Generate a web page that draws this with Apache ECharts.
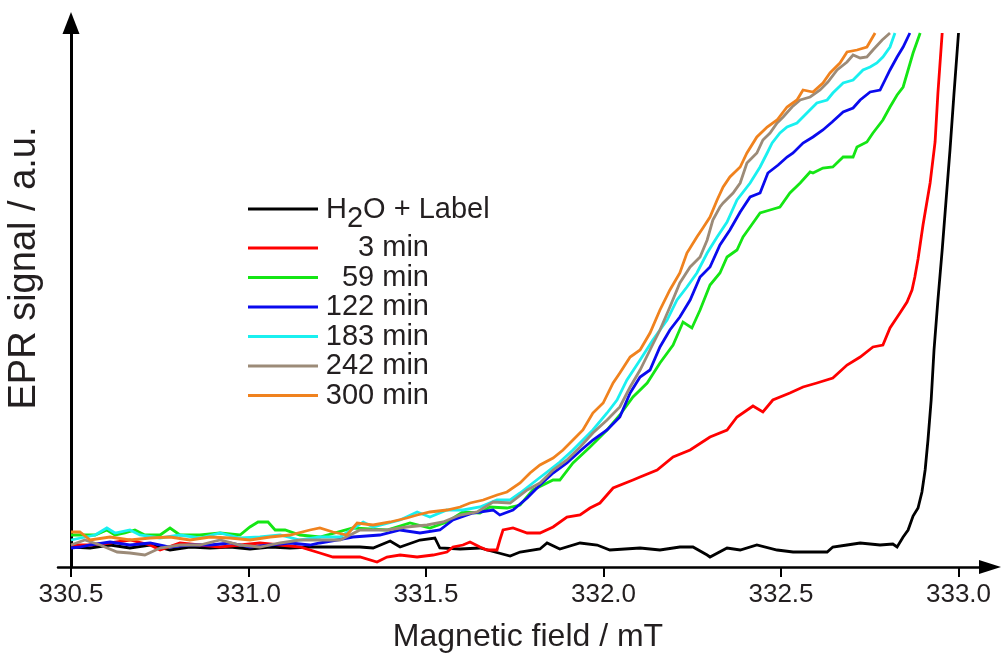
<!DOCTYPE html>
<html>
<head>
<meta charset="utf-8">
<script src="https://cdn.jsdelivr.net/npm/echarts@6/dist/echarts.min.js"></script>
<style>
  html, body { margin: 0; padding: 0; background: #ffffff; }
  #chart { width: 1002px; height: 659px; }
</style>
</head>
<body>
<div id="chart"></div>
<script>
// EPR spectra: high-field edge, signal in arbitrary units vs. magnetic field (mT)

const fieldTicks = [330.5, 331.0, 331.5, 332.0, 332.5, 333.0];

const seriesNames = ['H2O + Label', '3 min', '59 min', '122 min', '183 min', '242 min', '300 min'];
const seriesColors = ['#000000', '#ff0000', '#14e614', '#0a0aee', '#19f0f0', '#9c8b78', '#f0821e'];

// H2O + Label
const h2oField = [330.500,330.554,330.610,330.666,330.723,330.779,330.835,330.892,330.948,331.004,
  331.061,331.117,331.173,331.230,331.314,331.351,331.399,331.427,331.483,331.525,
  331.539,331.596,331.652,331.694,331.737,331.765,331.821,331.841,331.877,331.934,
  331.982,332.018,332.103,332.159,332.215,332.252,332.292,332.300,332.348,332.385,
  332.432,332.489,332.534,332.582,332.630,332.646,332.686,332.723,332.779,332.815,
  332.827,332.844,332.858,332.872,332.886,332.897,332.906,332.914,332.923,332.931,
  332.942,332.954,332.965,332.976,332.987,333.000];
const h2oSignal = [20,19,22,19,22,17,20,19,20,18, 20,19,20,20,20,19,26,20,27,29,
  19,18,19,15,11,15,18,24,18,24, 22,17,19,17,20,20,12,10,19,17,
  22,17,15,15,15,20,22,24,22,23, 20,30,37,51,59,75,97,127,167,217,
  267,317,367,417,472,534];

// 3 min
const min3Field = [330.500,330.554,330.610,330.666,330.723,330.751,330.807,330.863,330.920,330.976,
  331.032,331.089,331.145,331.201,331.238,331.277,331.314,331.362,331.390,331.427,
  331.475,331.520,331.559,331.576,331.604,331.624,331.652,331.672,331.700,331.708,
  331.717,331.745,331.785,331.821,331.858,331.897,331.934,331.962,331.990,332.027,
  332.083,332.103,332.151,332.196,332.244,332.300,332.348,332.376,332.421,332.449,
  332.477,332.525,332.562,332.601,332.646,332.686,332.723,332.759,332.787,332.807,
  332.835,332.855,332.869,332.877,332.886,332.900,332.920,332.934,332.942,332.954];
const min3Signal = [22,22,24,27,22,17,24,22,20,22, 24,22,20,14,10,10,10,5,10,12,
  10,12,15,20,22,25,20,17,17,27, 37,39,34,34,40,50,52,59,64,79,
  87,90,97,110,117,130,137,150,161,155, 167,174,180,184,189,202,210,220,222,239,
  254,265,277,290,308,342,384,425,474,534];

// 59 min
const min59Field = [330.500,330.568,330.601,330.624,330.652,330.680,330.708,330.751,330.779,330.807,
  330.863,330.920,330.976,331.004,331.027,331.055,331.075,331.103,331.145,331.201,
  331.294,331.390,331.455,331.511,331.559,331.604,331.652,331.680,331.728,331.765,
  331.801,331.858,331.877,331.914,331.962,332.010,332.046,332.083,332.123,332.159,
  332.196,332.224,332.249,332.272,332.300,332.328,332.348,332.376,332.393,332.413,
  332.441,332.469,332.497,332.525,332.554,332.582,332.590,332.618,332.646,332.675,
  332.703,332.714,332.742,332.759,332.787,332.807,332.827,332.844,332.858,332.872,
  332.892];
const min59Signal = [32,32,37,32,34,37,32,32,39,32, 32,34,32,40,45,45,37,37,32,30,
  39,37,44,39,45,55,54,60,59,62, 77,87,87,104,120,137,152,170,184,204,
  222,245,239,257,282,294,310,317,330,340, 354,357,360,374,384,395,394,399,400,410,
  410,420,425,434,447,460,472,480,497,514, 534];

// 122 min
const min122Field = [330.500,330.525,330.554,330.610,330.666,330.723,330.779,330.835,330.892,330.948,
  331.004,331.061,331.117,331.173,331.201,331.249,331.294,331.370,331.427,331.483,
  331.539,331.576,331.632,331.689,331.708,331.745,331.785,331.821,331.858,331.897,
  331.934,331.970,332.010,332.046,332.075,332.103,332.131,332.159,332.187,332.215,
  332.244,332.272,332.300,332.328,332.356,332.385,332.413,332.441,332.463,332.492,
  332.517,332.534,332.562,332.590,332.618,332.644,332.675,332.703,332.723,332.751,
  332.779,332.793,332.807,332.827,332.844,332.863];
const min122Signal = [19,20,22,25,22,24,20,22,22,24, 20,22,24,22,24,27,30,32,37,34,
  37,47,54,57,52,57,69,82,94,104, 116,127,137,150,174,190,197,220,237,250,
  267,290,300,322,337,355,370,374,394,402, 410,414,424,430,437,445,455,459,467,475,
  477,487,497,510,520,534];

// 183 min
const min183Field = [330.500,330.568,330.601,330.624,330.666,330.694,330.751,330.807,330.863,330.920,
  330.976,331.032,331.089,331.145,331.201,331.258,331.323,331.351,331.427,331.475,
  331.511,331.559,331.604,331.652,331.700,331.737,331.765,331.801,331.841,331.877,
  331.914,331.942,331.970,332.010,332.038,332.066,332.103,332.139,332.179,332.207,
  332.235,332.263,332.292,332.320,332.348,332.376,332.413,332.441,332.461,332.475,
  332.497,332.517,332.545,332.573,332.601,332.630,332.646,332.675,332.703,332.731,
  332.751,332.770,332.787,332.807,332.821];
const min183Signal = [27,32,39,34,37,32,29,32,29,34, 29,30,32,27,30,30,45,40,47,55,
  50,57,57,60,67,67,74,84,95,105, 117,127,137,154,167,187,207,227,247,267,
  280,294,314,330,345,367,384,400,414,424, 434,440,444,454,464,467,474,484,487,497,
  500,504,510,520,534];

// 242 min
const min242Field = [330.500,330.539,330.582,330.630,330.666,330.708,330.751,330.807,330.863,330.920,
  330.976,331.032,331.089,331.145,331.201,331.258,331.314,331.390,331.446,331.503,
  331.548,331.596,331.644,331.689,331.737,331.785,331.821,331.858,331.897,331.934,
  331.970,332.010,332.046,332.075,332.103,332.131,332.159,332.187,332.215,332.244,
  332.272,332.292,332.308,332.328,332.337,332.365,332.385,332.404,332.432,332.449,
  332.469,332.489,332.506,332.531,332.554,332.582,332.610,332.632,332.658,332.686,
  332.703,332.723,332.742,332.759,332.785,332.807];
const min242Signal = [22,27,22,15,14,12,19,22,22,27, 22,20,24,27,27,27,37,37,40,42,
  45,52,55,65,64,77,84,97,107,120, 134,147,160,180,197,217,237,260,284,300,
  310,327,347,360,364,374,384,404,414,427, 434,444,450,460,467,470,477,485,497,505,
  512,509,510,517,527,534];

// 300 min
const min300Field = [330.500,330.525,330.554,330.610,330.666,330.723,330.779,330.835,330.892,330.948,
  331.004,331.061,331.117,331.173,331.201,331.238,331.277,331.306,331.351,331.399,
  331.446,331.475,331.511,331.559,331.596,331.624,331.661,331.700,331.728,331.765,
  331.793,331.821,331.858,331.886,331.914,331.942,331.970,331.999,332.027,332.046,
  332.075,332.103,332.131,332.159,332.187,332.215,332.235,332.263,332.280,332.300,
  332.320,332.337,332.356,332.385,332.404,332.432,332.461,332.489,332.517,332.545,
  332.562,332.590,332.618,332.638,332.666,332.686,332.714,332.742,332.765];
const min300Signal = [35,35,27,30,27,29,30,27,30,29, 27,30,32,37,39,35,32,44,42,45,
  49,52,55,57,60,64,67,72,75,84, 94,102,109,117,127,137,154,164,184,194,
  210,217,234,257,277,294,314,330,339,350, 367,380,390,400,414,430,440,447,460,467,
  477,475,484,494,504,515,517,520,534];

const curveFields = [h2oField, min3Field, min59Field, min122Field, min183Field, min242Field, min300Field];
const curveSignals = [h2oSignal, min3Signal, min59Signal, min122Signal, min183Signal, min242Signal, min300Signal];

const FONT = 'Liberation Sans, Arial, Helvetica, sans-serif';
const INK = '#231f20';
const KEY_FONT = 29;

const chart = echarts.init(document.getElementById('chart'), null, { renderer: 'canvas' });

const series = seriesNames.map((name, i) => ({
  type: 'line',
  name: name,
  data: curveFields[i].map((f, k) => [f, curveSignals[i][k]]),
  symbol: 'none',
  showSymbol: false,
  lineStyle: { color: seriesColors[i], width: 2.8, join: 'miter' },
  itemStyle: { color: seriesColors[i] },
  z: 2 + i,
  animation: false
}));

// key in the upper-left part of the plot
const keyLineX = [248, 318];
const keyRowY = [209, 248, 277.5, 307, 336.5, 366, 395.5];
const keyText = (text, x, y, align) => ({
  type: 'text', x: x, y: y, z: 20,
  style: { text: text, align: align, verticalAlign: 'middle', fontSize: KEY_FONT, fontFamily: FONT, fill: INK }
});
const keyGraphics = [];
seriesNames.forEach((name, i) => {
  const y = keyRowY[i];
  keyGraphics.push({
    type: 'line',
    shape: { x1: keyLineX[0], y1: y, x2: keyLineX[1], y2: y },
    style: { stroke: seriesColors[i], lineWidth: 2.8 },
    z: 20
  });
  if (i === 0) {
    // H, subscript 2, O + Label (Liberation Sans advance widths: H 0.722 em, 2 0.556 em)
    const hx = 326;
    const twoX = hx + 0.722 * KEY_FONT;
    const oX = twoX + 0.556 * KEY_FONT;
    keyGraphics.push(keyText('H', hx, y + 1, 'left'));
    keyGraphics.push(keyText('2', twoX, y + 10, 'left'));
    keyGraphics.push(keyText('O + Label', oX, y + 1, 'left'));
  } else {
    keyGraphics.push(keyText(name, 429, y, 'right'));
  }
});

chart.setOption({
  animation: false,
  backgroundColor: '#ffffff',
  grid: { left: 58, right: 12, top: 23, bottom: 92, containLabel: false, outerBoundsMode: 'none' },
  xAxis: {
    type: 'value',
    min: 330.4634,
    max: 333.0887,
    name: 'Magnetic field / mT',
    nameLocation: 'middle',
    nameGap: 54,
    nameTextStyle: { fontSize: 32, fontFamily: FONT, color: INK, padding: [0, 0, 0, 8], verticalAlign: 'top' },
    axisLine: {
      show: true,
      onZero: false,
      symbol: ['none', 'triangle'],
      symbolSize: [14, 22],
      lineStyle: { color: '#000', width: 2.5 }
    },
    axisTick: {
      show: true,
      inside: false,
      length: 10,
      customValues: fieldTicks,
      lineStyle: { color: '#000', width: 2 }
    },
    axisLabel: {
      show: true,
      customValues: fieldTicks,
      margin: 15,
      fontSize: 26,
      fontFamily: FONT,
      color: INK,
      formatter: v => v.toFixed(1)
    },
    splitLine: { show: false }
  },
  yAxis: {
    type: 'value',
    min: 0,
    max: 544,
    offset: -13,
    name: 'EPR signal / a.u.',
    nameLocation: 'middle',
    nameRotate: 90,
    nameGap: 27,
    nameTextStyle: { fontSize: 38, fontFamily: FONT, color: INK, padding: [0, 0, 0, 54] },
    axisLine: {
      show: true,
      onZero: false,
      symbol: ['none', 'triangle'],
      symbolSize: [17, 22],
      lineStyle: { color: '#000', width: 3 }
    },
    axisTick: { show: false },
    axisLabel: { show: false },
    splitLine: { show: false }
  },
  graphic: keyGraphics,
  series: series
});
</script>
</body>
</html>
